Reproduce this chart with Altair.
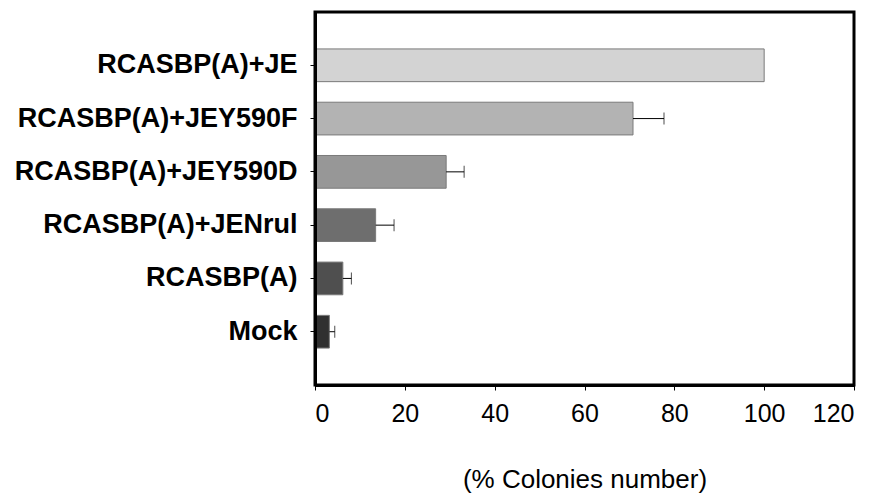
import altair as alt
import pandas as pd

categories = ["RCASBP(A)+JE", "RCASBP(A)+JEY590F", "RCASBP(A)+JEY590D",
              "RCASBP(A)+JENrul", "RCASBP(A)", "Mock"]
values = [100, 70.8, 29.2, 13.5, 6.2, 3.2]
errors = [0, 6.9, 4.0, 4.1, 1.9, 1.2]
bar_colors = ["#d3d3d3", "#b3b3b3", "#979797", "#6e6e6e", "#4f4f4f", "#303030"]
x_ticks = [0, 20, 40, 60, 80, 100, 120]
x_title = "(% Colonies number)"

df = pd.DataFrame({"cat": categories, "val": values, "err": errors})
df["hi"] = df["val"] + df["err"]
err_df = df[df["err"] > 0]

FONT = "Liberation Sans"

y_enc = alt.Y("cat:N", sort=categories,
              scale=alt.Scale(paddingInner=0.386, paddingOuter=0.693),
              axis=alt.Axis(title=None, labelFont=FONT, labelFontSize=27,
                            labelFontWeight="bold", labelColor="black",
                            labelPadding=13, tickSize=5, tickColor="black",
                            tickWidth=1, domain=True, domainColor="black",
                            domainWidth=3, zindex=1, labelLimit=400))
x_enc = alt.X("val:Q", scale=alt.Scale(domain=[0, 120], nice=False),
              axis=alt.Axis(values=x_ticks, title=x_title, titleFont=FONT,
                            titleFontSize=26, titleFontWeight="normal",
                            titleColor="black", titleY=102,
                            titleBaseline="alphabetic",
                            labelFont=FONT, labelFontSize=25,
                            labelColor="black", labelPadding=11,
                            tickSize=5, tickColor="black", tickWidth=1,
                            domain=True, domainColor="black", domainWidth=3,
                            grid=False, zindex=1))

bars = alt.Chart(df).mark_bar(stroke="#7a7a7a", strokeWidth=1).encode(
    x=x_enc,
    y=y_enc,
    color=alt.Color("cat:N", sort=categories,
                    scale=alt.Scale(domain=categories, range=bar_colors),
                    legend=None),
)

rules = alt.Chart(err_df).mark_rule(color="black", strokeWidth=1).encode(
    x="val:Q", x2="hi:Q", y=alt.Y("cat:N", sort=categories),
)

caps = alt.Chart(err_df).mark_tick(color="black", thickness=1, size=12,
                                   orient="vertical").encode(
    x="hi:Q", y=alt.Y("cat:N", sort=categories),
)

chart = alt.layer(bars, rules, caps).properties(
    width=539, height=373,
    padding={"left": 307, "top": 4, "right": 16, "bottom": 110},
    autosize="none",
).configure_view(stroke="black", strokeWidth=3).configure_axis(grid=False)

chart.save("out.html", embed_options={"renderer": "svg", "actions": False})
